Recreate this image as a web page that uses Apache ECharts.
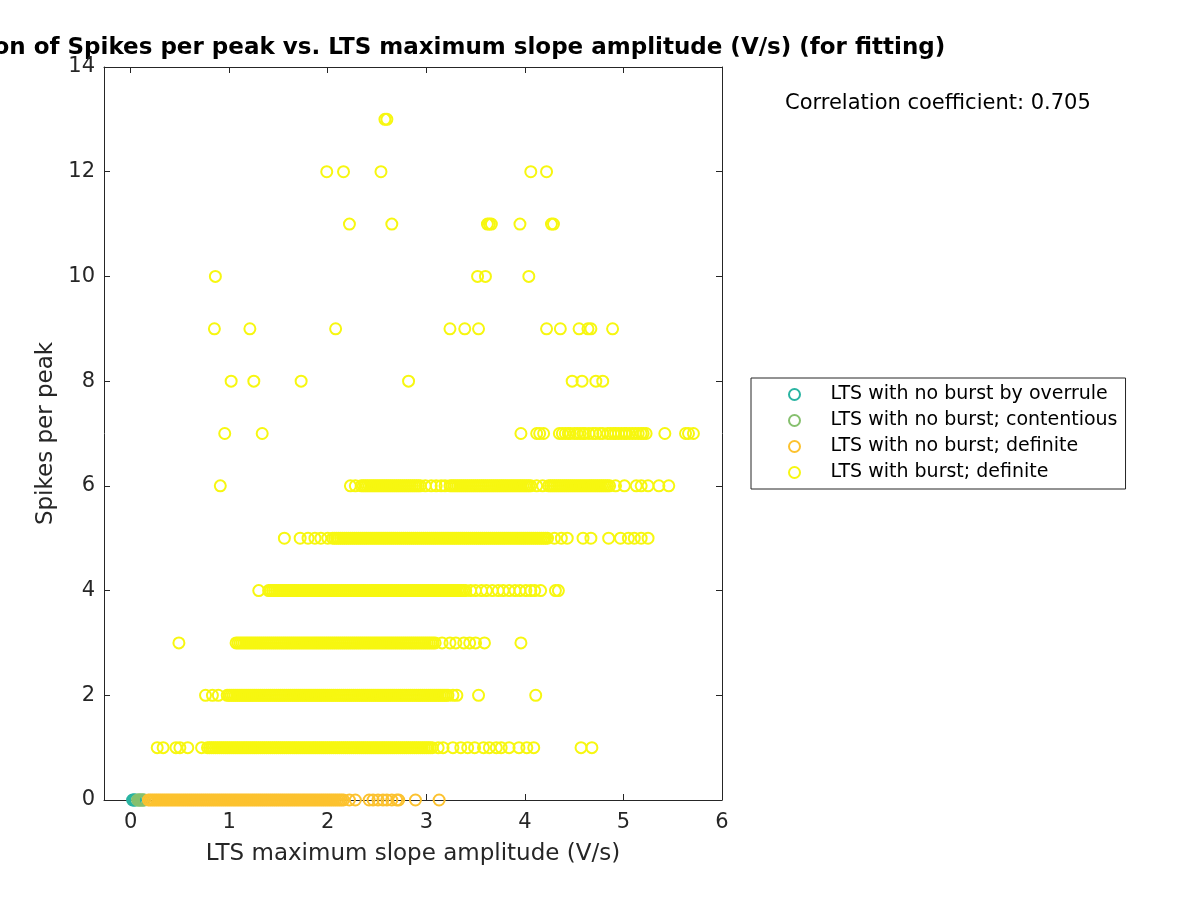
<!DOCTYPE html>
<html><head><meta charset="utf-8">
<script src="https://cdn.jsdelivr.net/npm/echarts@6/dist/echarts.min.js"></script>
<style>html,body{margin:0;padding:0;background:#fff}#c{width:1200px;height:900px}</style>
</head><body><div id="c"></div>
<script>
const titleText = 'Correlation of Spikes per peak vs. LTS maximum slope amplitude (V/s) (for fitting)';
const xAxisName = 'LTS maximum slope amplitude (V/s)';
const yAxisName = 'Spikes per peak';
const corrText = 'Correlation coefficient: 0.705';
const seriesNames = ['LTS with no burst by overrule', 'LTS with no burst; contentious', 'LTS with no burst; definite', 'LTS with burst; definite'];
const seriesColors = ['#2ab4a2', '#86c06e', '#fcc22f', '#f7f710'];
const xTicks = [0, 1, 2, 3, 4, 5, 6];

// spikes per peak = 0
const overruleX = [0.02, 0.03, 0.04, 0.05];
const contentiousX = [0.07, 0.08, 0.09, 0.10, 0.11, 0.12, 0.13, 0.14];
const noBurstX = [0.18,0.20,0.22,0.24,0.26,0.28,0.30,0.32,0.34,0.36,0.38,0.40,0.42,0.44,0.46,0.48,0.50,0.52,0.54,0.56,0.58,0.60,0.62,0.64,0.66,0.68,0.70,0.72,0.74,0.76,0.78,0.80,0.82,0.84,0.86,0.88,0.90,0.92,0.94,0.96,0.98,1.00,1.02,1.04,1.06,1.08,1.10,1.12,1.14,1.16,1.18,1.20,1.22,1.24,1.26,1.28,1.30,1.32,1.34,1.36,1.38,1.40,1.42,1.44,1.46,1.48,1.50,1.52,1.54,1.56,1.58,1.60,1.62,1.64,1.66,1.68,1.70,1.72,1.74,1.76,1.78,1.80,1.82,1.84,1.86,1.88,1.90,1.92,1.94,1.96,1.98,2.00,2.02,2.04,2.06,2.08,2.10,2.12,2.14,2.16,
  2.22,2.28,2.42,2.46,2.51,2.56,2.60,2.65,2.70,2.72,2.89,3.13];

// LTS with burst, one array per spikes-per-peak level
const burstRow1 = [0.27,0.33,0.46,0.50,0.58,0.72,
  0.78,0.80,0.82,0.84,0.86,0.88,0.90,0.92,0.94,0.96,0.98,1.00,1.02,1.04,1.06,1.08,1.10,1.12,1.14,1.16,1.18,1.20,1.22,1.24,1.26,1.28,1.30,1.32,1.34,1.36,1.38,1.40,1.42,1.44,1.46,1.48,1.50,1.52,1.54,1.56,1.58,1.60,1.62,1.64,1.66,1.68,1.70,1.72,1.74,1.76,1.78,1.80,1.82,1.84,1.86,1.88,1.90,1.92,1.94,1.96,1.98,2.00,2.02,2.04,2.06,2.08,2.10,2.12,2.14,2.16,2.18,2.20,2.22,2.24,2.26,2.28,2.30,2.32,2.34,2.36,2.38,2.40,2.42,2.44,2.46,2.48,2.50,2.52,2.54,2.56,2.58,2.60,2.62,2.64,2.66,2.68,2.70,2.72,2.74,2.76,2.78,2.80,2.82,2.84,2.86,2.88,2.90,2.92,2.94,2.96,2.98,3.00,3.02,3.04,3.06,
  3.12,3.17,3.27,3.35,3.42,3.49,3.58,3.64,3.71,3.76,3.84,3.94,4.02,4.09,4.57,4.68];
const burstRow2 = [0.76,0.83,0.89,
  0.98,1.00,1.02,1.04,1.06,1.08,1.10,1.12,1.14,1.16,1.18,1.20,1.22,1.24,1.26,1.28,1.30,1.32,1.34,1.36,1.38,1.40,1.42,1.44,1.46,1.48,1.50,1.52,1.54,1.56,1.58,1.60,1.62,1.64,1.66,1.68,1.70,1.72,1.74,1.76,1.78,1.80,1.82,1.84,1.86,1.88,1.90,1.92,1.94,1.96,1.98,2.00,2.02,2.04,2.06,2.08,2.10,2.12,2.14,2.16,2.18,2.20,2.22,2.24,2.26,2.28,2.30,2.32,2.34,2.36,2.38,2.40,2.42,2.44,2.46,2.48,2.50,2.52,2.54,2.56,2.58,2.60,2.62,2.64,2.66,2.68,2.70,2.72,2.74,2.76,2.78,2.80,2.82,2.84,2.86,2.88,2.90,2.92,2.94,2.96,2.98,3.00,3.02,3.04,3.06,3.08,3.10,3.12,3.14,3.16,3.18,3.20,3.22,
  3.27,3.31,3.53,4.11];
const burstRow3 = [0.49,
  1.07,1.09,1.11,1.13,1.15,1.17,1.19,1.21,1.23,1.25,1.27,1.29,1.31,1.33,1.35,1.37,1.39,1.41,1.43,1.45,1.47,1.49,1.51,1.53,1.55,1.57,1.59,1.61,1.63,1.65,1.67,1.69,1.71,1.73,1.75,1.77,1.79,1.81,1.83,1.85,1.87,1.89,1.91,1.93,1.95,1.97,1.99,2.01,2.03,2.05,2.07,2.09,2.11,2.13,2.15,2.17,2.19,2.21,2.23,2.25,2.27,2.29,2.31,2.33,2.35,2.37,2.39,2.41,2.43,2.45,2.47,2.49,2.51,2.53,2.55,2.57,2.59,2.61,2.63,2.65,2.67,2.69,2.71,2.73,2.75,2.77,2.79,2.81,2.83,2.85,2.87,2.89,2.91,2.93,2.95,2.97,2.99,3.01,3.03,3.05,3.07,3.09,
  3.16,3.24,3.30,3.38,3.44,3.50,3.59,3.96];
const burstRow4 = [1.30,
  1.40,1.42,1.44,1.46,1.48,1.50,1.52,1.54,1.56,1.58,1.60,1.62,1.64,1.66,1.68,1.70,1.72,1.74,1.76,1.78,1.80,1.82,1.84,1.86,1.88,1.90,1.92,1.94,1.96,1.98,2.00,2.02,2.04,2.06,2.08,2.10,2.12,2.14,2.16,2.18,2.20,2.22,2.24,2.26,2.28,2.30,2.32,2.34,2.36,2.38,2.40,2.42,2.44,2.46,2.48,2.50,2.52,2.54,2.56,2.58,2.60,2.62,2.64,2.66,2.68,2.70,2.72,2.74,2.76,2.78,2.80,2.82,2.84,2.86,2.88,2.90,2.92,2.94,2.96,2.98,3.00,3.02,3.04,3.06,3.08,3.10,3.12,3.14,3.16,3.18,3.20,3.22,3.24,3.26,3.28,3.30,3.32,3.34,3.36,3.38,3.40,
  3.45,3.50,3.56,3.61,3.67,3.73,3.78,3.84,3.90,3.95,4.01,4.06,4.10,4.16,4.31,4.34];
const burstRow5 = [1.56,1.72,1.80,1.87,1.93,2.00,
  2.05,2.07,2.09,2.11,2.13,2.15,2.17,2.19,2.21,2.23,2.25,2.27,2.29,2.31,2.33,2.35,2.37,2.39,2.41,2.43,2.45,2.47,2.49,2.51,2.53,2.55,2.57,2.59,2.61,2.63,2.65,2.67,2.69,2.71,2.73,2.75,2.77,2.79,2.81,2.83,2.85,2.87,2.89,2.91,2.93,2.95,2.97,2.99,3.01,3.03,3.05,3.07,3.09,3.11,3.13,3.15,3.17,3.19,3.21,3.23,3.25,3.27,3.29,3.31,3.33,3.35,3.37,3.39,3.41,3.43,3.45,3.47,3.49,3.51,3.53,3.55,3.57,3.59,3.61,3.63,3.65,3.67,3.69,3.71,3.73,3.75,3.77,3.79,3.81,3.83,3.85,3.87,3.89,3.91,3.93,3.95,3.97,3.99,4.01,4.03,4.05,4.07,4.09,4.11,4.13,4.15,4.17,4.19,4.21,4.23,
  4.30,4.37,4.43,4.59,4.67,4.85,4.97,5.05,5.11,5.18,5.25];
const burstRow6 = [0.91,2.23,2.28,
  2.34,2.36,2.38,2.40,2.42,2.44,2.46,2.48,2.50,2.52,2.54,2.56,2.58,2.60,2.62,2.64,2.66,2.68,2.70,2.72,2.74,2.76,2.78,2.80,2.82,2.84,2.86,2.88,2.90,2.92,2.94,
  2.99,3.05,3.10,3.15,3.19,
  3.24,3.26,3.28,3.30,3.32,3.34,3.36,3.38,3.40,3.42,3.44,3.46,3.48,3.50,3.52,3.54,3.56,3.58,3.60,3.62,3.64,3.66,3.68,3.70,3.72,3.74,3.76,3.78,3.80,3.82,3.84,3.86,3.88,3.90,3.92,3.94,3.96,3.98,4.00,4.02,4.04,4.06,
  4.12,4.18,
  4.24,4.26,4.28,4.30,4.32,4.34,4.36,4.38,4.40,4.42,4.44,4.46,4.48,4.50,4.52,4.54,4.56,4.58,4.60,4.62,4.64,4.66,4.68,4.70,4.72,4.74,4.76,4.78,4.80,4.82,4.84,4.86,
  4.92,5.01,5.13,5.18,5.25,5.36,5.46];
const burstRow7 = [0.955,1.335,3.96,4.12,4.15,4.19,4.35,4.38,4.41,4.44,4.46,4.50,4.53,4.56,4.59,4.61,4.65,4.69,4.72,4.76,4.79,4.84,4.87,4.90,4.92,4.95,4.98,5.01,5.03,5.06,5.09,5.12,5.15,5.18,5.20,5.23,5.42,5.63,5.66,5.71];
const burstRow8 = [1.02,1.25,1.73,2.82,4.48,4.58,4.72,4.79];
const burstRow9 = [0.85,1.21,2.08,3.24,3.39,3.53,4.22,4.36,4.55,4.64,4.67,4.89];
const burstRow10 = [0.86,3.52,3.60,4.04];
const burstRow11 = [2.22,2.65,3.62,3.64,3.66,3.95,4.27,4.29];
const burstRow12 = [1.99,2.16,2.54,4.06,4.22];
const burstRow13 = [2.58,2.60];

const burstRows = [[1, burstRow1],[2, burstRow2],[3, burstRow3],[4, burstRow4],[5, burstRow5],[6, burstRow6],[7, burstRow7],[8, burstRow8],[9, burstRow9],[10, burstRow10],[11, burstRow11],[12, burstRow12],[13, burstRow13]];

const FONT = 'DejaVu Sans';
const AX = '#262626';

function atLevel(xs, y) { return xs.map(x => [x, y]); }
const burstData = [];
burstRows.forEach(([y, xs]) => xs.forEach(x => burstData.push([x, y])));
const seriesData = [atLevel(overruleX, 0), atLevel(contentiousX, 0), atLevel(noBurstX, 0), burstData];

function axisCommon(extra) {
  return Object.assign({
    type: 'value',
    axisLine: { show: true, onZero: false, lineStyle: { color: AX, width: 1 } },
    axisTick: { show: true, inside: true, length: 6, lineStyle: { color: AX, width: 1 } },
    splitLine: { show: false },
    axisLabel: { show: false }
  }, extra);
}

const chart = echarts.init(document.getElementById('c'), null, { renderer: 'canvas' });
chart.setOption({
  animation: false,
  backgroundColor: '#ffffff',
  grid: { left: 104, right: 478, top: 67, bottom: 100, containLabel: false },
  xAxis: [
    axisCommon({ min: -0.27, max: 6, position: 'bottom',
      axisTick: { show: true, inside: true, length: 6, customValues: xTicks, lineStyle: { color: AX } },
      axisLabel: { show: true, customValues: xTicks, fontSize: 21, color: AX, fontFamily: FONT, margin: 12 },
      name: xAxisName, nameLocation: 'middle', nameGap: 43,
      nameTextStyle: { fontSize: 23, color: AX, fontFamily: FONT } }),
    axisCommon({ min: -0.27, max: 6, position: 'top',
      axisTick: { show: true, inside: true, length: 6, customValues: xTicks, lineStyle: { color: AX } } })
  ],
  yAxis: [
    axisCommon({ min: 0, max: 14, interval: 2, position: 'left',
      axisLabel: { show: true, fontSize: 21, color: AX, fontFamily: FONT, margin: 9 },
      name: yAxisName, nameLocation: 'middle', nameGap: 42,
      nameTextStyle: { fontSize: 23, color: AX, fontFamily: FONT } }),
    axisCommon({ min: 0, max: 14, interval: 2, position: 'right' })
  ],
  legend: {
    orient: 'vertical', left: 751, top: 378,
    padding: [7, 8, 7, 37],
    itemWidth: 62, itemHeight: 11, itemGap: 7,
    borderColor: AX, borderWidth: 1, borderRadius: 0, backgroundColor: '#fff',
    textStyle: { fontSize: 19, color: '#000', fontFamily: FONT, lineHeight: 19 },
    data: seriesNames,
    selectedMode: false
  },
  graphic: [
    { type: 'text', x: 412.75, y: 48, style: { text: titleText, fill: '#000', font: 'bold 23px "DejaVu Sans"', textAlign: 'center', textVerticalAlign: 'middle' }, silent: true },
    { type: 'text', x: 785, y: 104, style: { text: corrText, fill: '#000', font: '21px "DejaVu Sans"', textAlign: 'left', textVerticalAlign: 'middle' }, silent: true }
  ],
  series: seriesNames.map((name, i) => ({
    name: name,
    type: 'scatter',
    symbol: 'circle',
    symbolSize: 11,
    silent: true,
    xAxisIndex: 0, yAxisIndex: 0,
    itemStyle: { color: 'rgba(0,0,0,0)', borderColor: seriesColors[i], borderWidth: 2, opacity: 1 },
    data: seriesData[i]
  }))
});
</script>
</body></html>
